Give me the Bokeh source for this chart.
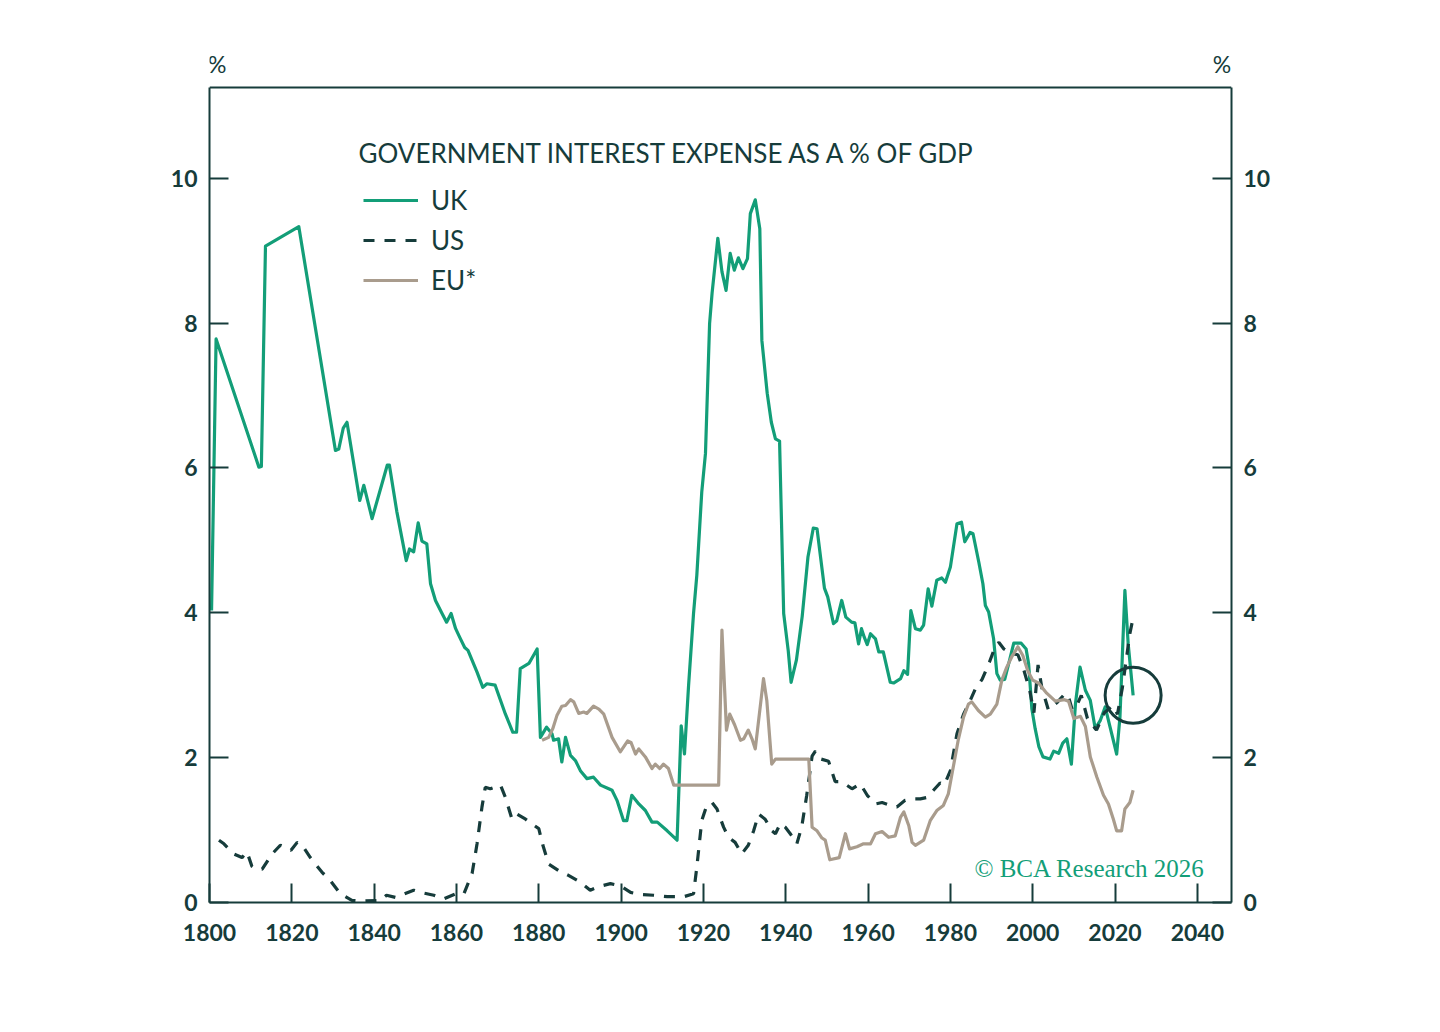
from bokeh.plotting import figure
from bokeh.models import Range1d, LinearAxis, Legend, LegendItem, Label, FixedTicker, Span
from bokeh.embed import file_html
from bokeh.resources import INLINE

# ---------------- data ----------------
uk_years = [1800.5, 1801.6, 1812.0, 1812.6, 1813.6, 1821.7, 1830.6, 1831.4, 1832.5, 1833.4,
            1836.5, 1837.5, 1839.5, 1843.2, 1843.7, 1845.5, 1847.8, 1848.6, 1849.6, 1850.7,
            1851.6, 1852.8, 1853.7, 1854.9, 1856.5, 1857.6, 1858.7, 1859.8, 1860.8, 1862.0,
            1862.8, 1865.0, 1866.4, 1867.4, 1869.4, 1871.9, 1873.7, 1874.6, 1875.5, 1877.6,
            1879.6, 1880.4, 1881.9, 1883.2, 1883.6, 1884.8, 1885.6, 1886.5, 1887.7, 1888.9,
            1890.1, 1891.7, 1893.3, 1895.0, 1897.0, 1897.8, 1899.0, 1900.6, 1901.4, 1902.6,
            1904.3, 1905.9, 1907.5, 1908.8, 1911.2, 1913.6, 1914.6, 1915.4, 1916.4, 1917.6,
            1918.4, 1919.6, 1920.5, 1921.5, 1922.1, 1923.5, 1924.5, 1925.5, 1926.5, 1927.5,
            1928.5, 1929.6, 1930.7, 1931.4, 1932.6, 1933.7, 1934.2, 1935.5, 1936.5, 1937.5,
            1938.5, 1939.5, 1940.6, 1941.3, 1942.6, 1944.0, 1945.4, 1946.7, 1947.6, 1949.4,
            1950.2, 1951.6, 1952.4, 1953.6, 1954.6, 1956.0, 1956.8, 1957.7, 1958.4, 1959.1,
            1959.8, 1960.6, 1961.8, 1962.6, 1963.7, 1965.4, 1966.2, 1967.9, 1968.7, 1969.6,
            1970.4, 1971.5, 1972.7, 1973.5, 1974.6, 1975.5, 1976.7, 1977.9, 1978.8, 1980.0,
            1981.6, 1982.7, 1983.5, 1984.8, 1985.5, 1986.9, 1987.9, 1988.5, 1989.3, 1990.5,
            1991.3, 1992.1, 1993.2, 1994.4, 1995.4, 1997.2, 1998.4, 1999.0, 1999.8, 2000.6,
            2001.5, 2002.5, 2004.2, 2005.1, 2006.3, 2007.3, 2008.3, 2009.4, 2010.4, 2011.5,
            2012.8, 2014.0, 2015.2, 2016.4, 2017.6, 2018.8, 2020.4, 2021.2, 2022.4, 2023.2,
            2024.4]
uk_vals = [4.03, 7.78, 6.01, 6.02, 9.06, 9.33, 6.24, 6.26, 6.55, 6.63,
           5.55, 5.76, 5.30, 6.04, 6.04, 5.40, 4.72, 4.88, 4.84, 5.24,
           4.99, 4.95, 4.40, 4.17, 3.99, 3.87, 3.99, 3.78, 3.66, 3.52,
           3.48, 3.18, 2.97, 3.02, 3.00, 2.60, 2.35, 2.35, 3.23, 3.30,
           3.50, 2.28, 2.42, 2.33, 2.24, 2.26, 1.94, 2.28, 2.03, 1.96,
           1.82, 1.71, 1.73, 1.62, 1.57, 1.55, 1.41, 1.13, 1.13, 1.48,
           1.36, 1.27, 1.11, 1.11, 0.99, 0.86, 2.44, 2.05, 3.00, 3.99,
           4.52, 5.67, 6.20, 7.99, 8.41, 9.17, 8.71, 8.45, 8.96, 8.73,
           8.90, 8.75, 8.89, 9.51, 9.70, 9.30, 7.76, 7.03, 6.63, 6.40,
           6.37, 3.99, 3.48, 3.04, 3.35, 3.95, 4.77, 5.17, 5.16, 4.34,
           4.22, 3.85, 3.89, 4.17, 3.94, 3.87, 3.86, 3.57, 3.78, 3.66,
           3.56, 3.71, 3.64, 3.46, 3.46, 3.04, 3.03, 3.09, 3.20, 3.15,
           4.03, 3.78, 3.76, 3.83, 4.33, 4.09, 4.45, 4.48, 4.42, 4.63,
           5.23, 5.25, 4.98, 5.11, 5.09, 4.70, 4.40, 4.10, 4.01, 3.64,
           3.16, 3.07, 3.08, 3.35, 3.58, 3.58, 3.50, 3.30, 2.67, 2.40,
           2.15, 2.01, 1.98, 2.09, 2.06, 2.20, 2.26, 1.91, 2.75, 3.25,
           2.93, 2.79, 2.40, 2.51, 2.70, 2.42, 2.05, 2.56, 4.31, 3.57,
           2.86]

us_years = [1802.3, 1803.5, 1805.9, 1807.9, 1809.1, 1810.3, 1811.2, 1812.8, 1815.2, 1817.2,
            1818.5, 1819.8, 1821.3, 1822.5, 1824.5, 1827.3, 1829.4, 1831.8, 1834.6, 1837.0,
            1841.5, 1843.0, 1845.2, 1849.6, 1851.3, 1854.5, 1856.9, 1859.8, 1861.8, 1863.8,
            1865.0, 1866.2, 1867.0, 1868.2, 1870.7, 1871.9, 1873.5, 1874.7, 1876.8, 1878.2,
            1880.0, 1881.0, 1882.4, 1884.8, 1887.0, 1890.1, 1892.5, 1894.6, 1897.4, 1899.8,
            1902.3, 1904.7, 1907.9, 1911.2, 1915.2, 1917.6, 1918.4, 1919.6, 1920.8, 1922.1,
            1923.3, 1924.9, 1926.1, 1927.7, 1929.3, 1930.9, 1932.2, 1933.4, 1935.0, 1936.6,
            1937.5, 1938.7, 1939.9, 1941.1, 1942.7, 1943.9, 1945.1, 1946.4, 1947.2, 1948.6,
            1950.4, 1952.0, 1953.2, 1954.8, 1956.1, 1958.1, 1959.8, 1961.8, 1963.4, 1965.4,
            1967.0, 1969.0, 1971.1, 1972.7, 1974.3, 1975.9, 1977.5, 1978.5, 1980.0, 1981.6,
            1983.2, 1984.6, 1986.0, 1987.7, 1989.5, 1991.0, 1991.8, 1993.0, 1994.6, 1996.4,
            1997.9, 1999.3, 2000.3, 2001.3, 2002.2, 2003.8, 2005.9, 2007.5, 2008.5, 2009.6,
            2010.7, 2011.8, 2013.3, 2015.5, 2017.4, 2019.5, 2020.6, 2021.8, 2022.6, 2023.6,
            2024.5]
us_vals = [0.86, 0.81, 0.67, 0.62, 0.70, 0.50, 0.46, 0.46, 0.67, 0.79,
           0.76, 0.72, 0.83, 0.79, 0.62, 0.42, 0.30, 0.12, 0.03, 0.02,
           0.03, 0.10, 0.07, 0.17, 0.14, 0.10, 0.05, 0.12, 0.12, 0.40,
           0.81, 1.32, 1.59, 1.57, 1.62, 1.45, 1.15, 1.22, 1.15, 1.09,
           1.02, 0.79, 0.53, 0.44, 0.38, 0.28, 0.17, 0.22, 0.26, 0.23,
           0.14, 0.11, 0.10, 0.08, 0.08, 0.12, 0.49, 1.13, 1.34, 1.38,
           1.29, 1.04, 0.90, 0.83, 0.67, 0.79, 0.99, 1.22, 1.15, 0.99,
           0.95, 1.09, 1.04, 0.95, 0.81, 1.05, 1.48, 2.02, 2.09, 1.98,
           1.95, 1.67, 1.67, 1.62, 1.57, 1.64, 1.48, 1.36, 1.38, 1.34,
           1.32, 1.41, 1.43, 1.43, 1.45, 1.55, 1.65, 1.62, 1.82, 2.33,
           2.60, 2.76, 2.94, 3.08, 3.32, 3.55, 3.59, 3.50, 3.44, 3.42,
           3.20, 2.92, 2.62, 3.28, 2.97, 2.66, 2.76, 2.86, 2.88, 2.66,
           2.72, 2.86, 2.54, 2.38, 2.62, 2.72, 2.60, 2.97, 3.30, 3.71,
           3.96]

eu_years = [1880.8, 1882.4, 1883.4, 1884.4, 1885.6, 1886.5, 1887.7, 1888.5, 1889.7, 1890.9,
            1891.7, 1893.3, 1894.6, 1895.8, 1897.8, 1899.8, 1901.6, 1902.4, 1903.5, 1904.3,
            1905.9, 1907.5, 1908.3, 1909.4, 1910.3, 1911.5, 1912.8, 1923.7, 1924.5, 1925.6,
            1926.4, 1927.6, 1929.0, 1929.8, 1930.9, 1931.8, 1932.6, 1934.6, 1935.4, 1936.6,
            1937.5, 1945.6, 1946.4, 1947.6, 1948.8, 1949.6, 1950.7, 1953.0, 1954.5, 1955.5,
            1957.3, 1958.9, 1960.6, 1961.8, 1963.4, 1965.0, 1966.6, 1967.9, 1968.7, 1969.9,
            1970.7, 1971.5, 1973.5, 1975.1, 1976.7, 1978.3, 1979.5, 1980.7, 1981.9, 1983.2,
            1984.4, 1985.2, 1986.8, 1988.5, 1989.7, 1991.3, 1992.5, 1993.7, 1994.9, 1996.4,
            1997.6, 1998.8, 2000.0, 2001.4, 2003.4, 2005.5, 2007.7, 2008.7, 2010.0, 2011.6,
            2012.8, 2014.0, 2015.6, 2017.2, 2018.4, 2019.6, 2020.4, 2021.6, 2022.4, 2023.6,
            2024.4]
eu_vals = [2.24, 2.28, 2.40, 2.58, 2.71, 2.72, 2.80, 2.77, 2.61, 2.63,
           2.61, 2.71, 2.67, 2.60, 2.28, 2.08, 2.23, 2.21, 2.05, 2.12,
           2.01, 1.85, 1.91, 1.85, 1.91, 1.85, 1.62, 1.62, 3.76, 2.38,
           2.60, 2.45, 2.24, 2.26, 2.38, 2.26, 2.12, 3.09, 2.79, 1.91,
           1.98, 1.98, 1.04, 0.99, 0.89, 0.86, 0.59, 0.62, 0.95, 0.74,
           0.77, 0.81, 0.81, 0.95, 0.98, 0.90, 0.92, 1.18, 1.25, 1.06,
           0.83, 0.79, 0.86, 1.13, 1.27, 1.34, 1.50, 1.87, 2.24, 2.56,
           2.74, 2.77, 2.65, 2.56, 2.60, 2.74, 3.07, 3.25, 3.39, 3.53,
           3.41, 3.20, 3.07, 3.03, 2.89, 2.78, 2.80, 2.78, 2.54, 2.57,
           2.43, 2.01, 1.73, 1.48, 1.36, 1.15, 0.99, 0.99, 1.29, 1.38,
           1.55]

x_ticks = [1800, 1820, 1840, 1860, 1880, 1900, 1920, 1940, 1960, 1980, 2000, 2020, 2040]
y_ticks = [0, 2, 4, 6, 8, 10]
y_top = 11.25
title_text = "GOVERNMENT INTEREST EXPENSE AS A % OF GDP"
series_names = ["UK", "US", "EU*"]
unit_text = "%"
source_text = "\u00a9 BCA Research 2026"

# ---------------- style ----------------
GREEN = "#139E78"
DARK = "#163C3B"
TAUPE = "#A99C8D"
FONT = "Lato"

p = figure(width=1424, height=1016, output_backend="svg", toolbar_location=None,
           x_range=Range1d(1800, 2048.3), y_range=Range1d(0, 11.9),
           min_border_left=209, min_border_right=193, min_border_top=40, min_border_bottom=114)
p.background_fill_color = "white"
p.border_fill_color = "white"
p.xgrid.visible = False
p.ygrid.visible = False
p.outline_line_color = None

right_axis = LinearAxis()
p.add_layout(right_axis, "right")

for ax in [p.xaxis[0], p.yaxis[0], right_axis]:
    ax.axis_line_color = DARK
    ax.axis_line_width = 2
    ax.major_tick_line_color = DARK
    ax.major_tick_line_width = 2
    ax.major_tick_in = 19
    ax.major_tick_out = 0
    ax.minor_tick_line_color = None
    ax.major_label_text_font = FONT
    ax.major_label_text_font_style = "bold"
    ax.major_label_text_font_size = "23px"
    ax.major_label_text_color = DARK

p.xaxis[0].ticker = FixedTicker(ticks=x_ticks)
p.xaxis[0].major_label_standoff = 21
for ax in [p.yaxis[0], right_axis]:
    ax.ticker = FixedTicker(ticks=y_ticks)
    ax.bounds = (0, y_top)
    ax.major_label_standoff = 12

# top border of the chart box
p.add_layout(Span(location=y_top, dimension="width", line_color=DARK, line_width=2))

r_uk = p.line(uk_years, uk_vals, line_color=GREEN, line_width=3.2, line_join="round")
r_us = p.line(us_years, us_vals, line_color=DARK, line_width=3.2, line_dash="11 10")
r_eu = p.line(eu_years, eu_vals, line_color=TAUPE, line_width=3.2, line_join="round")

# circle highlighting the latest UK reading
p.scatter([uk_years[-1]], [uk_vals[-1]], marker="circle", size=56,
          fill_alpha=0, line_color=DARK, line_width=3)

legend = Legend(items=[LegendItem(label=series_names[0], renderers=[r_uk]),
                       LegendItem(label=series_names[1], renderers=[r_us]),
                       LegendItem(label=series_names[2], renderers=[r_eu])],
                location=(154, 606), orientation="vertical",
                glyph_width=55, glyph_height=30, label_height=30, spacing=8,
                padding=0, margin=0, label_standoff=13,
                border_line_alpha=0, background_fill_alpha=0,
                label_text_font=FONT, label_text_font_size="26px",
                label_text_color=DARK)
p.add_layout(legend, "center")

p.add_layout(Label(x=1836.2, y=10.35, text=title_text, text_font=FONT,
                   text_font_size="26px", text_color=DARK, text_baseline="middle"))
p.add_layout(Label(x=1801.9, y=11.57, text=unit_text, text_font=FONT, text_font_size="23px",
                   text_color=DARK, text_align="center", text_baseline="middle"))
p.add_layout(Label(x=2046.0, y=11.57, text=unit_text, text_font=FONT, text_font_size="23px",
                   text_color=DARK, text_align="center", text_baseline="middle"))
p.add_layout(Label(x=2041.9, y=0.47, text=source_text, text_font="Liberation Serif",
                   text_font_size="25px", text_color=GREEN, text_align="right",
                   text_baseline="middle"))

open("out.html", "w").write(file_html(p, INLINE))
